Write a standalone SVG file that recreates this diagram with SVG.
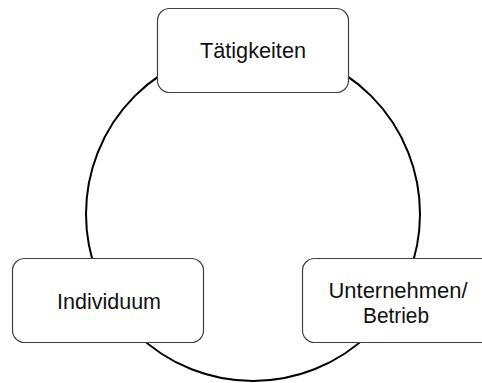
<svg xmlns="http://www.w3.org/2000/svg" width="482" height="383" viewBox="0 0 482 383">
<style>
.box{fill:#fff;stroke:#404040;stroke-width:1.2}
.lbl{font-family:"Liberation Sans",Arial,sans-serif;font-size:22px;fill:#111;text-anchor:middle}
.ring{fill:none;stroke:#000;stroke-width:2}
</style>
<rect width="482" height="383" fill="#fff"/>
<g id="connectors">
<circle class="ring" cx="253" cy="214" r="167"/>
</g>
<g id="taetigkeiten">
<rect class="box" x="157.5" y="8.5" width="191" height="84" rx="12"/>
<text class="lbl" x="253" y="58" textLength="106" lengthAdjust="spacingAndGlyphs">Tätigkeiten</text>
</g>
<g id="individuum">
<rect class="box" x="12.5" y="258.5" width="191" height="84" rx="12"/>
<text class="lbl" x="109" y="309" textLength="104" lengthAdjust="spacingAndGlyphs">Individuum</text>
</g>
<g id="unternehmen">
<rect class="box" x="302.5" y="258.5" width="191" height="84" rx="12"/>
<text class="lbl" x="398" y="298" textLength="139" lengthAdjust="spacingAndGlyphs">Unternehmen/</text>
<text class="lbl" x="396" y="323" textLength="66" lengthAdjust="spacingAndGlyphs">Betrieb</text>
</g>
</svg>
